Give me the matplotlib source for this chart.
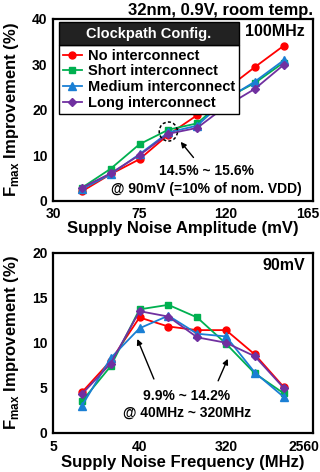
import matplotlib
matplotlib.use("Agg")
import matplotlib.pyplot as plt
import matplotlib.transforms as mtransforms
from matplotlib.patches import Ellipse, Rectangle

plt.rcParams['font.family'] = ['Liberation Sans', 'DejaVu Sans']
plt.rcParams['font.weight'] = 'bold'
plt.rcParams['mathtext.fontset'] = 'custom'
plt.rcParams['mathtext.rm'] = 'Liberation Sans'
plt.rcParams['mathtext.bf'] = 'Liberation Sans:bold'

# ---------------- data ----------------
series_names = ['No interconnect', 'Short interconnect', 'Medium interconnect', 'Long interconnect']
colors = ['#FF0000', '#00B050', '#1A7FD4', '#7030A0']
markers = ['o', 's', '^', 'D']

amp_mv = [45, 60, 75, 90, 105, 120, 135, 150]
amp_no = [2.0, 5.8, 9.1, 14.5, 18.8, 24.5, 29.4, 34.1]
amp_short = [2.8, 7.0, 12.4, 15.6, 17.0, 22.5, 25.9, 30.4]
amp_medium = [2.5, 5.8, 10.2, 15.0, 16.5, 22.3, 26.2, 30.9]
amp_long = [2.8, 6.0, 10.0, 14.7, 16.0, 20.8, 24.6, 29.9]

freq_mhz = [10, 20, 40, 80, 160, 320, 640, 1280]
freq_no = [4.5, 8.0, 12.8, 11.8, 11.4, 11.4, 8.7, 5.1]
freq_short = [3.5, 7.4, 13.7, 14.2, 12.8, 9.9, 6.6, 4.4]
freq_medium = [3.0, 8.3, 11.6, 13.0, 11.0, 10.7, 6.7, 4.0]
freq_long = [4.3, 7.7, 13.5, 12.9, 10.6, 10.0, 8.5, 5.0]

amp_ticks = [30, 75, 120, 165]
freq_ticks = [5, 40, 320, 2560]

W, H = 320, 472
fig = plt.figure(figsize=(W / 100, H / 100), dpi=100)

def axes_rect(l, t, r, b):
    return [l / W, 1 - b / H, (r - l) / W, (b - t) / H]

ax1 = fig.add_axes(axes_rect(53, 19, 312.5, 200.5))
ax2 = fig.add_axes(axes_rect(53, 252.5, 312.5, 433))

ylabel = r'$\mathbf{F}_{\mathrm{max}}$ Improvement (%)'

def style(ax):
    for s in ax.spines.values():
        s.set_linewidth(1.6)
        s.set_color('black')
    ax.tick_params(length=0, labelsize=10, pad=5)
    ax.tick_params(axis='y', pad=4)
    for lab in ax.get_xticklabels() + ax.get_yticklabels():
        lab.set_fontweight('bold')
    # keep the last x tick label inside the figure, like the reference
    last = ax.get_xticklabels()[-1]
    last.set_horizontalalignment('right')
    last.set_transform(last.get_transform() +
                       mtransforms.ScaledTranslation(7 / 100, 0, fig.dpi_scale_trans))
    ax.set_ylabel(ylabel, fontsize=12, fontweight='bold')
    ax.yaxis.set_label_coords(-0.125, 0.5)

# ---------------- top chart ----------------
amp_series = [amp_no, amp_short, amp_medium, amp_long]
handles = []
for vals, c, m, name in zip(amp_series, colors, markers, series_names):
    ms = 5 if m != '^' else 6
    if m == 'D':
        ms = 4.5
    h, = ax1.plot(amp_mv, vals, color=c, marker=m, markersize=ms, linewidth=1.3, label=name)
    handles.append(h)
ax1.set_xlim(30, 165)
ax1.set_ylim(0, 40)
ax1.set_xticks(amp_ticks)
ax1.set_xticklabels([str(t) for t in amp_ticks])
ax1.set_yticks([0, 10, 20, 30, 40])
style(ax1)
ax1.set_xlabel('Supply Noise Amplitude (mV)', fontsize=12, fontweight='bold')
ax1.xaxis.set_label_coords(0.5, -0.115)

ax1.text(0.97, 0.93, '100MHz', transform=ax1.transAxes, ha='right', va='center',
         fontsize=11.5, fontweight='bold')
fig.text(313 / W, 1 - 10 / H, '32nm, 0.9V, room temp.', ha='right', va='center',
         fontsize=12, fontweight='bold')

ax1.add_patch(Ellipse((90, 15.2), 9.5, 4.2, fill=False, linestyle=(0, (2, 1.5)),
                      linewidth=1.1, edgecolor='black', zorder=6))
ax1.annotate('', xy=(95.5, 13.4), xytext=(104, 9.0),
             arrowprops=dict(arrowstyle='-|>', color='black', lw=1.0, mutation_scale=8))
ax1.text(110, 6.4, '14.5% ~ 15.6%', ha='center', va='center', fontsize=10, fontweight='bold')
ax1.text(110, 2.55, '@ 90mV (=10% of nom. VDD)', ha='center', va='center', fontsize=10,
         fontweight='bold')

leg_top_px = 45
leg = ax1.legend(handles=handles, loc='upper left',
                 bbox_to_anchor=((59 - 53) / 259.5, (200.5 - leg_top_px) / 181.5),
                 borderaxespad=0, prop={'weight': 'bold', 'size': 10.5},
                 frameon=True, fancybox=False, edgecolor='black', framealpha=1,
                 handlelength=1.3, handletextpad=0.45, labelspacing=0.12,
                 borderpad=0.25)
leg.get_frame().set_linewidth(1.0)
leg.set_zorder(10)

fig.canvas.draw()
bb = leg.get_window_extent()
inv = ax1.transAxes.inverted()
(x0, y0) = inv.transform((bb.x0, bb.y1))
(x1, y1) = inv.transform((bb.x1, bb.y1 + 23))
rect = Rectangle((x0, y0), x1 - x0, y1 - y0, transform=ax1.transAxes,
                 facecolor='#222222', edgecolor='black', linewidth=1.0, zorder=11)
ax1.add_patch(rect)
ax1.text((x0 + x1) / 2, (y0 + y1) / 2, 'Clockpath Config.', transform=ax1.transAxes,
         ha='center', va='center', color='white', fontsize=10.5, fontweight='bold', zorder=12)

# ---------------- bottom chart ----------------
freq_series = [freq_no, freq_short, freq_medium, freq_long]
for vals, c, m, name in zip(freq_series, colors, markers, series_names):
    ms = 5 if m != '^' else 6
    if m == 'D':
        ms = 4.5
    ax2.plot(freq_mhz, vals, color=c, marker=m, markersize=ms, linewidth=1.3, label=name)
ax2.set_xscale('log', base=2)
ax2.set_xlim(5, 2560)
ax2.set_ylim(0, 20)
ax2.set_xticks(freq_ticks)
ax2.set_xticklabels([str(t) for t in freq_ticks])
ax2.xaxis.set_minor_locator(matplotlib.ticker.NullLocator())
ax2.set_yticks([0, 5, 10, 15, 20])
style(ax2)
ax2.set_xlabel('Supply Noise Frequency (MHz)', fontsize=12, fontweight='bold')
ax2.xaxis.set_label_coords(0.5, -0.12)

ax2.text(0.97, 0.93, '90mV', transform=ax2.transAxes, ha='right', va='center',
         fontsize=11.5, fontweight='bold')
ax2.annotate('', xy=(37, 10.7), xytext=(58, 5.7),
             arrowprops=dict(arrowstyle='-|>', color='black', lw=1.0, mutation_scale=8))
ax2.annotate('', xy=(343, 8.5), xytext=(258, 5.5),
             arrowprops=dict(arrowstyle='-|>', color='black', lw=1.0, mutation_scale=8))
ax2.text(125, 4.1, '9.9% ~ 14.2%', ha='center', va='center', fontsize=10, fontweight='bold')
ax2.text(125, 2.2, '@ 40MHz ~ 320MHz', ha='center', va='center', fontsize=10,
         fontweight='bold')

fig.savefig('out.png', dpi=100)
